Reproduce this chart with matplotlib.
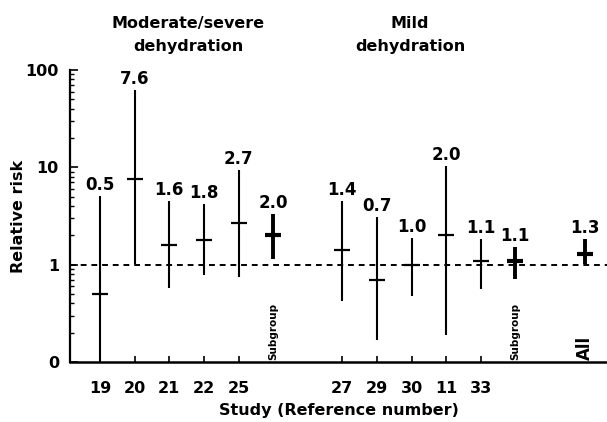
import matplotlib
matplotlib.use("Agg")
import matplotlib.pyplot as plt
from matplotlib.ticker import FixedLocator, LogLocator, NullFormatter

plt.rcParams['font.family'] = ['DejaVu Sans']
plt.rcParams['font.weight'] = 'bold'

# slot on the x axis, study reference, point estimate and 95% CI
positions = [0, 1, 2, 3, 4, 5, 7, 8, 9, 10, 11, 12, 14]
studies = ['19', '20', '21', '22', '25', '', '27', '29', '30', '11', '33', '', '']
rr = [0.5, 7.6, 1.6, 1.8, 2.7, 2.0, 1.4, 0.7, 1.0, 2.0, 1.1, 1.1, 1.3]
lower = [0.05, 1.02, 0.57, 0.78, 0.75, 1.14, 0.42, 0.17, 0.48, 0.19, 0.56, 0.71, 1.02]
upper = [5.1, 62, 4.5, 4.2, 9.4, 3.3, 4.5, 3.1, 1.87, 10.2, 1.83, 1.52, 1.83]
labels = ['0.5', '7.6', '1.6', '1.8', '2.7', '2.0', '1.4', '0.7', '1.0', '2.0', '1.1', '1.1', '1.3']
pooled = [False, False, False, False, False, True, False, False, False, False, False, True, True]

fig = plt.figure(figsize=(6.07, 4.22), dpi=100)
ax = fig.add_axes([70 / 607, 1 - 362 / 422, 1 - 70 / 607, 292 / 422])

for x, r, lo, hi, lab, pool in zip(positions, rr, lower, upper, labels, pooled):
    lw = 2.8 if pool else 1.5
    ax.vlines(x, lo, hi, color='black', lw=lw, clip_on=True)
    ax.plot(x, r, marker='_', ms=12 if pool else 11, mew=3 if pool else 1.6,
            color='black')
    ax.annotate(lab, (x, hi), xytext=(0, 1.5), textcoords='offset points',
                ha='center', va='bottom', fontsize=12, fontweight='bold')

ax.axhline(1, color='black', lw=1.4, ls=(0, (3, 2.5)))

ax.set_yscale('log')
ax.set_ylim(0.1, 100)
ax.set_xlim(-0.87, 14.65)

ax.yaxis.set_major_locator(FixedLocator([0.1, 1, 10, 100]))
ax.set_yticklabels(['0', '1', '10', '100'])
ax.yaxis.set_minor_locator(LogLocator(base=10, subs=range(2, 10)))
ax.yaxis.set_minor_formatter(NullFormatter())
ax.tick_params(axis='y', which='major', direction='in', length=6, width=1.2,
               labelsize=11.5, pad=8)
ax.tick_params(axis='y', which='minor', direction='in', length=3, width=1)

tick_pos = [p for p, s in zip(positions, studies) if s]
tick_lab = [s for s in studies if s]
ax.set_xticks(tick_pos)
ax.set_xticklabels(tick_lab)
ax.tick_params(axis='x', direction='in', length=4, width=1.2, labelsize=11.5, pad=14)

ax.spines['top'].set_visible(False)
ax.spines['right'].set_visible(False)
ax.spines['left'].set_linewidth(1.6)
ax.spines['bottom'].set_linewidth(1.8)

ax.text(5, 0.104, 'Subgroup', rotation=90, ha='center', va='bottom', fontsize=7.5,
        fontweight='bold')
ax.text(12, 0.104, 'Subgroup', rotation=90, ha='center', va='bottom', fontsize=7.5,
        fontweight='bold')
ax.text(14, 0.104, 'All', rotation=90, ha='center', va='bottom', fontsize=12,
        fontweight='bold')

ax.set_xlabel('Study (Reference number)', fontsize=11.5, fontweight='bold', labelpad=5)
ax.set_ylabel('Relative risk', fontsize=11.5, fontweight='bold')
ax.yaxis.set_label_coords(-(70 - 26) / 537, 0.5)

fig.text(188 / 607, 1 - 35 / 422, 'Moderate/severe\ndehydration', ha='center',
         va='center', fontsize=11.5, fontweight='bold', linespacing=1.6)
fig.text(410 / 607, 1 - 35 / 422, 'Mild\ndehydration', ha='center',
         va='center', fontsize=11.5, fontweight='bold', linespacing=1.6)

fig.savefig('out.png', dpi=100)
